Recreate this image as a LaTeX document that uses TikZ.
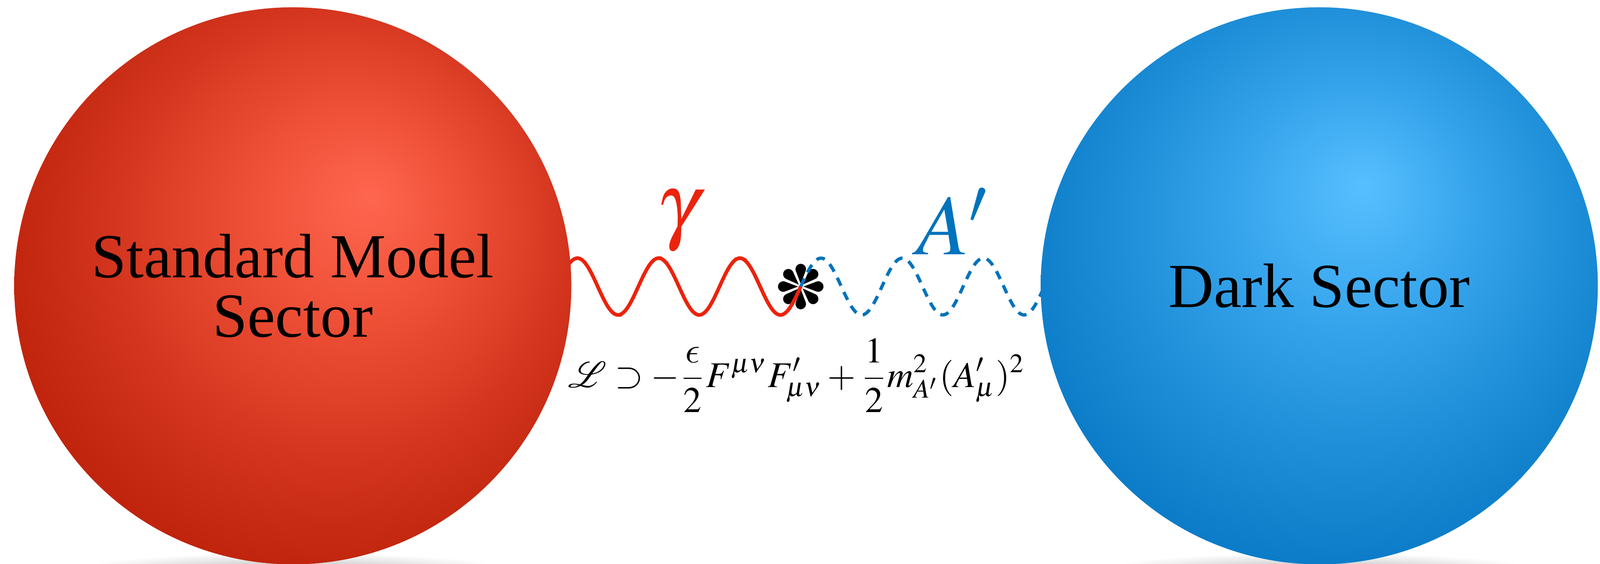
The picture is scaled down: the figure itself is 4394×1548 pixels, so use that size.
\documentclass[tikz,border=0pt]{standalone}
\usepackage{mathptmx}
\usepackage{mathrsfs}
\usepackage{graphicx}
\usepackage{fontspec}
\newfontfamily\sectorfont{Liberation Serif}
\usetikzlibrary{decorations.pathmorphing}

\DeclareSymbolFont{cmletters}{OML}{cmm}{m}{it}
\DeclareMathSymbol{\lunateeps}{\mathord}{cmletters}{"0F}

\definecolor{photonred}{RGB}{235,35,12}
\definecolor{darkblue}{RGB}{0,115,188}

\pgfdeclareradialshading{smball}{\pgfpoint{7bp}{8bp}}{rgb(0bp)=(1,0.40,0.31); rgb(10bp)=(0.93,0.31,0.21); rgb(20bp)=(0.83,0.21,0.12); rgb(32bp)=(0.73,0.12,0.03); rgb(50bp)=(0.68,0.08,0)}
\pgfdeclareradialshading{dsball}{\pgfpoint{4bp}{9bp}}{rgb(0bp)=(0.34,0.75,1); rgb(10bp)=(0.22,0.65,0.93); rgb(20bp)=(0.12,0.56,0.85); rgb(32bp)=(0.02,0.46,0.76); rgb(50bp)=(0,0.40,0.70)}

\tikzset{
    sector/.style={circle, inner sep=0pt, minimum size=153mm, align=center,
        font=\sectorfont\fontsize{49}{46.5}\selectfont},
    photon/.style={photonred, line width=1mm,
        postaction={draw, line width=0.45mm, decorate,
            decoration={random steps, segment length=0.8mm, amplitude=0.3mm}}},
    darkphoton/.style={darkblue, line width=0.9mm, dash pattern=on 2.4mm off 1.9mm},
    petal/.style={fill=black, draw=white, line width=0.5mm}
}

\begin{document}
\begin{tikzpicture}[x=0.1mm,y=-0.1mm]
    \useasboundingbox (0,0) rectangle (4394,1548);

    % soft shadows under the balls
    \foreach \cx in {804,3623} {
        \shade[inner color=black!28, outer color=white] (\cx,1568) ellipse[x radius=600, y radius=50];
    }

    \coordinate (mix) at (2199,787);
    \coordinate (smin) at (1530,787);

    % kinetic mixing blob
    \foreach \a in {0,45,...,315} {
        \draw[petal, rotate around={\a:(mix)}] (mix) -- ++(20.7:44.9)
            arc[start angle=110.7, end angle=-110.7, radius=17] -- cycle;
    }

    % photon and dark photon, three wavelengths each
    \draw[photon] (smin) \foreach \k in {1,2,3} {
        sin ++(55.75,-78) cos ++(55.75,78) sin ++(55.75,78) cos ++(55.75,-78)} coordinate (redend);
    \draw[darkphoton] (mix) \foreach \k in {1,2,3} {
        sin ++(55.75,-78) cos ++(55.75,78) sin ++(55.75,78) cos ++(55.75,-78)} coordinate (dsin);

    \node[sector, shade, shading=smball] (sm) at (804,785) {Standard Model\\Sector};
    \node[sector, shade, shading=dsball] (ds) at (3623,785) {Dark Sector};

    \node[text=photonred, font=\fontsize{67}{67}\selectfont] (gam) at (1861,607) {$\gamma$};
    \node[text=darkblue, font=\fontsize{67}{67}\selectfont] (aprime) at (2614,608) {$A'$};
    \node (lag) at (2188,1031) {\resizebox{125.5mm}{!}{$\displaystyle
        \mathscr{L}\supset-\frac{\lunateeps}{2}F^{\mu\nu}F'_{\mu\nu}+\frac{1}{2}m^2_{A'}(A'_\mu)^2$}};
\end{tikzpicture}
\end{document}
